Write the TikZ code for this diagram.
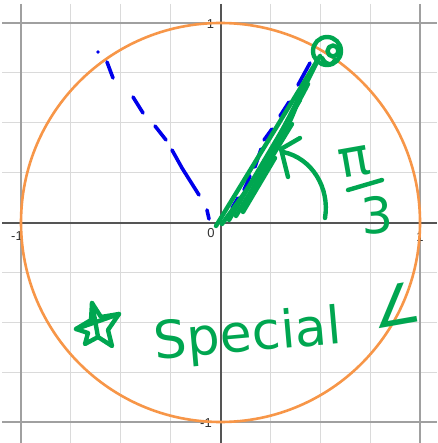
\documentclass[tikz,border=0pt]{standalone}
\usepackage{fontspec}
\newfontfamily\handfont{DejaVu Sans}
\newfontfamily\labelfont{Liberation Sans}
\definecolor{gridminor}{RGB}{218,218,218}
\definecolor{gridmajor}{RGB}{160,160,160}
\definecolor{axiscol}{RGB}{85,85,85}
\definecolor{labelcol}{RGB}{50,50,50}
\definecolor{circcol}{RGB}{247,150,72}
\definecolor{penblue}{RGB}{0,0,235}
\definecolor{pengreen}{RGB}{0,166,80}
\tikzset{
  minorline/.style={draw=gridminor, line width=1pt},
  majorline/.style={draw=gridmajor, line width=1.4pt},
  axisline/.style={draw=axiscol, line width=2pt},
  unitcircle/.style={draw=circcol, line width=2.6pt},
  bluedash/.style={draw=penblue, line width=3.6pt, line cap=round, line join=round},
  gstroke/.style={draw=pengreen, line width=4.4pt, line cap=round, line join=round},
  axislabel/.style={font=\labelfont\fontsize{13}{13}\selectfont, text=labelcol, inner sep=0pt},
  handtext/.style={text=pengreen, inner sep=0pt},
}
\begin{document}
\begin{tikzpicture}[x=1pt,y=-1pt]
\useasboundingbox (0,0) rectangle (437,443);
\fill[white] (0,0) rectangle (437,443);
% named points
\coordinate (O) at (220.5,222.5);
% minor grid
\foreach \k in {-3,-2,-1,1,2,3}{
  \draw[minorline] ({220.5+49.875*\k},4) -- ({220.5+49.875*\k},443);
  \draw[minorline] (2,{222.5+49.875*\k}) -- (437,{222.5+49.875*\k});
}
% major grid
\foreach \k in {-1,1}{
  \draw[majorline] ({220.5+199.5*\k},4) -- ({220.5+199.5*\k},443);
  \draw[majorline] (2,{222.5+199.5*\k}) -- (437,{222.5+199.5*\k});
}
% axes
\draw[axisline] (2,222.5) -- (437,222.5);
\draw[axisline] (220.5,4) -- (220.5,443);
% axis labels
\node[axislabel] (lx0) at (211,233.5) {0};
\node[axislabel] (lxm) at (17,236) {-1};
\node[axislabel] (lxp) at (420,237) {1};
\node[axislabel] (lyp) at (210.5,24) {1};
\node[axislabel] (lym) at (206,423) {-1};
% unit circle
\draw[unitcircle] (O) circle[radius=199.5pt];
% blue dashed rays (hand drawn)
\fill[penblue] (98,52) circle[radius=1.9pt];
\draw[bluedash] (107,62) -- (113,78);
\draw[bluedash] (133,97) -- (143,113);
\draw[bluedash] (155,126) -- (166,140);
\draw[bluedash] (172,150) -- (182,168) -- (199,195);
\draw[bluedash] (207,210) -- (209,219);
\draw[bluedash] (310,63) -- (298,85);
\draw[bluedash] (289,102) -- (280,116);
\draw[bluedash] (272,129) -- (264,140);
\draw[bluedash] (261,149) -- (255,167);
\draw[bluedash] (250,176) -- (244,190);
\draw[bluedash] (238,198) -- (232,208);
% green strokes along the 60 degree ray
\draw[gstroke] (216,226) -- (320,56);
\draw[gstroke] (222,224) .. controls (265,165) .. (316,64);
\draw[gstroke] (229,220) -- (300,100);
\draw[gstroke] (236,216) -- (292,124);
\draw[gstroke] (243,212) -- (275,158);
\draw[gstroke] (258,176) .. controls (282,130) and (298,104) .. (308,84);
\draw[gstroke] (266,164) .. controls (282,140) and (292,118) .. (297,104);
\draw[gstroke] (327,51) circle[radius=14pt];
\draw[gstroke] (333,51) circle[radius=5.5pt];
\draw[gstroke] (322,58) .. controls (326,66) and (333,66) .. (335,60);
% angle arc with arrow
\draw[gstroke] (325,218) .. controls (330,188) and (312,158) .. (283,152);
\draw[gstroke] (300,138) -- (281,149) -- (288,177);
% pi / 3 label
\node[handtext, font=\handfont\fontsize{52}{52}\selectfont, rotate=10] (piL) at (355,162) {π};
\draw[gstroke] (348,190) -- (382,180);
\node[handtext, font=\handfont\fontsize{50}{50}\selectfont, rotate=4] (threeL) at (377,215) {3};
% star
\coordinate (sT) at (92,303);
\coordinate (sR) at (119,314);
\coordinate (sBR) at (112,346);
\coordinate (sBL) at (85,344);
\coordinate (sL) at (76,329);
\draw[gstroke] (sT) -- (101,317) -- (sR) -- (108,330) -- (sBR) -- (98,337)
  -- (sBL) -- (88,333) -- (sL) -- (91,320) -- cycle;
\draw[gstroke] (sT) -- (98,337);
\draw[gstroke] (sL) -- (sR);
% Special angle
\node[handtext, font=\handfont\fontsize{52}{52}\selectfont, rotate=5] (special) at (248,337) {Special};
\node[handtext, font=\handfont\fontsize{56}{56}\selectfont, rotate=10] (angle) at (396,305) {∠};
\end{tikzpicture}
\end{document}
